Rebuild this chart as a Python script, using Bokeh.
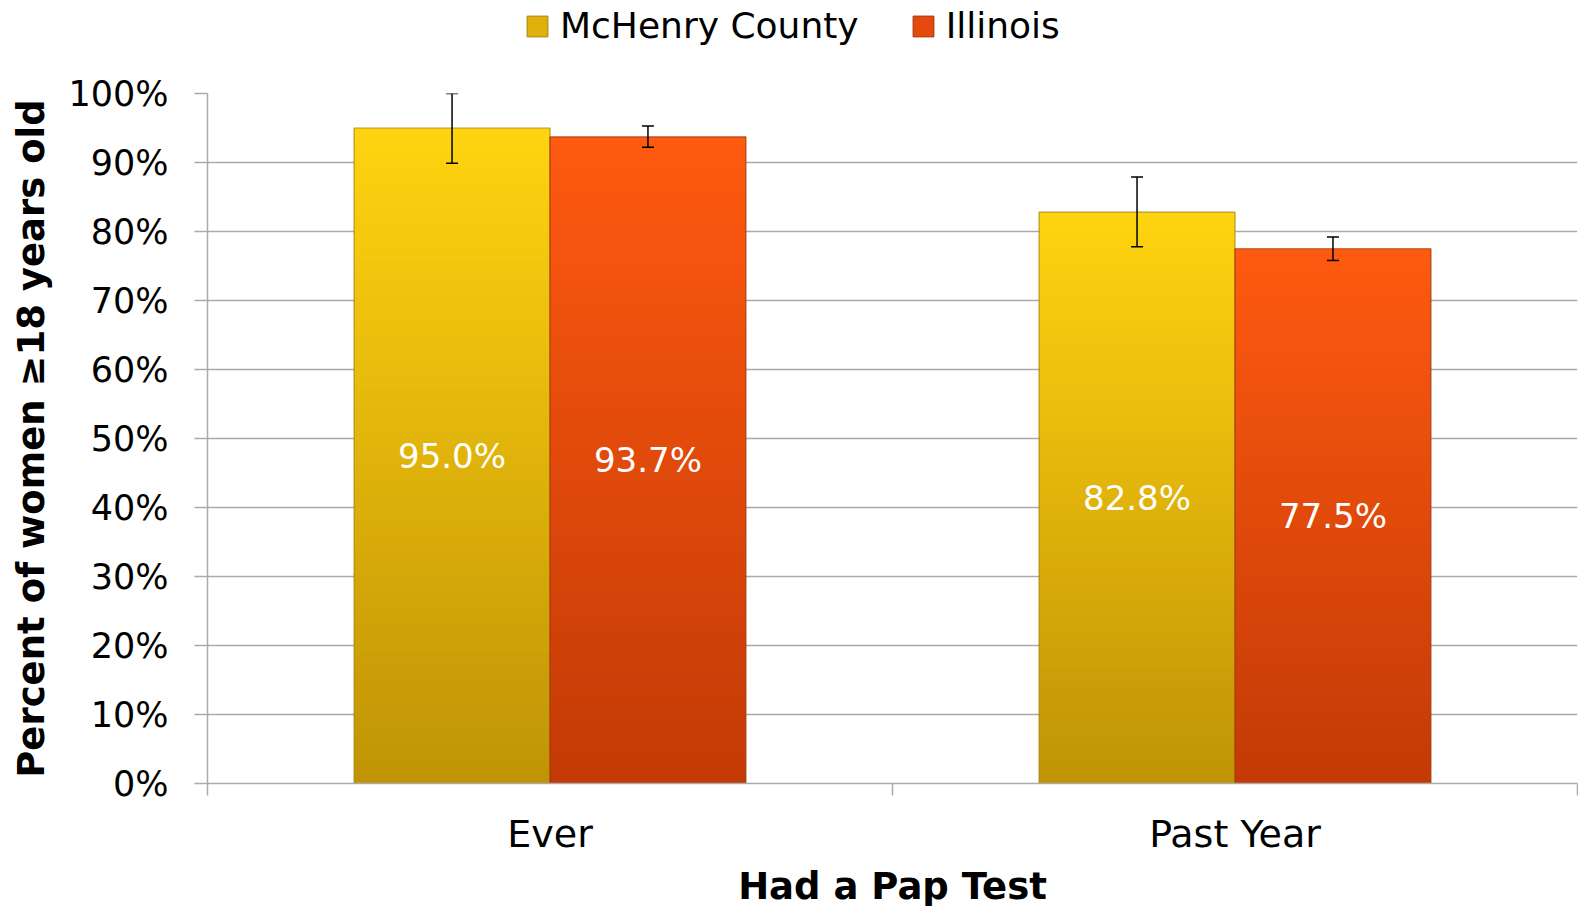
import numpy as np
from bokeh.plotting import figure
from bokeh.layouts import column
from bokeh.models import (ColumnDataSource, Whisker, TeeHead, FixedTicker, Legend,
                          LegendItem, Range1d)
from bokeh.core.properties import value
from bokeh.embed import file_html
from bokeh.resources import INLINE

# ---------------- data ----------------
categories = ["Ever", "Past Year"]
series_names = ["McHenry County", "Illinois"]
mchenry = [95.0, 82.8]
illinois = [93.7, 77.5]
mchenry_lower = [89.9, 77.8]
mchenry_upper = [100.0, 87.9]
illinois_lower = [92.2, 75.8]
illinois_upper = [95.3, 79.2]
y_ticks = [0, 10, 20, 30, 40, 50, 60, 70, 80, 90, 100]
y_tick_labels = ["0%", "10%", "20%", "30%", "40%", "50%", "60%", "70%", "80%", "90%", "100%"]
x_title = "Had a Pap Test"
y_title = "Percent of women \u226518 years old"

# ---------------- style ----------------
FONT = "DejaVu Sans"
GRID = "#AAAAAA"
TOP_COLORS = [(255, 212, 16), (255, 90, 16)]
BOTTOM_COLORS = [(192, 147, 6), (194, 58, 6)]
LEGEND_COLORS = ["#E0B00C", "#E44A0C"]
EDGE_COLORS = ["#A8840A", "#A03508"]
BAR_W = 0.286
OFFSETS = [-BAR_W / 2, BAR_W / 2]
N_SLICES = 60
TOTAL_W = 1578
LEGEND_H = 60
LEFT = 207

values = [mchenry, illinois]
lowers = [mchenry_lower, illinois_lower]
uppers = [mchenry_upper, illinois_upper]

cat_pos = [i + 0.5 for i, _ in enumerate(categories)]

p = figure(frame_width=1370, frame_height=690, x_range=Range1d(0, len(categories)),
           y_range=Range1d(0, 100), output_backend="svg", toolbar_location=None,
           min_border_left=LEFT, min_border_right=1, min_border_top=93 - LEGEND_H,
           min_border_bottom=120)
p.outline_line_color = None
p.background_fill_color = "white"
p.border_fill_color = "white"


def hexcol(c):
    return "#%02x%02x%02x" % tuple(int(round(v)) for v in c)


for s, name in enumerate(series_names):
    xs, bots, tops, cols = [], [], [], []
    for i, v in enumerate(values[s]):
        for k in range(N_SLICES):
            frac = (k + 0.5) / N_SLICES
            b = v * k / N_SLICES
            t = v * (k + 1) / N_SLICES
            if k < N_SLICES - 1:
                t += 0.12
            c = [BOTTOM_COLORS[s][j] + (TOP_COLORS[s][j] - BOTTOM_COLORS[s][j]) * frac for j in range(3)]
            xs.append(cat_pos[i] + OFFSETS[s])
            bots.append(b)
            tops.append(t)
            cols.append(hexcol(c))
    src = ColumnDataSource(dict(x=xs, bottom=bots, top=tops, color=cols))
    p.vbar(x="x", width=BAR_W, bottom="bottom", top="top", fill_color="color",
           line_color=None, source=src)
    # outline
    osrc = ColumnDataSource(dict(x=[c + OFFSETS[s] for c in cat_pos], top=values[s]))
    p.vbar(x="x", width=BAR_W, bottom=0, top="top", fill_color=None,
           line_color=EDGE_COLORS[s], line_width=1.2, line_alpha=0.8, source=osrc)
    # value labels
    lsrc = ColumnDataSource(dict(x=[c + OFFSETS[s] for c in cat_pos],
                                 y=[v / 2 for v in values[s]],
                                 t=["%.1f%%" % v for v in values[s]]))
    p.text(x="x", y="y", text="t", source=lsrc, text_align="center",
           text_baseline="middle", text_color="white", text_font=value(FONT),
           text_font_size="34px")
    # error bars
    esrc = ColumnDataSource(dict(x=[c + OFFSETS[s] for c in cat_pos],
                                 lower=lowers[s], upper=uppers[s]))
    w = Whisker(source=esrc, base="x", lower="lower", upper="upper",
                line_color="black", line_width=1.5, level="overlay",
                upper_head=TeeHead(size=12, line_color="black", line_width=1.5),
                lower_head=TeeHead(size=12, line_color="black", line_width=1.5))
    p.add_layout(w)

# ---------------- axes ----------------
p.xgrid.visible = False
p.ygrid.ticker = FixedTicker(ticks=y_ticks)
p.ygrid.grid_line_color = GRID
p.ygrid.grid_line_width = 1.5

ya = p.yaxis[0]
ya.ticker = FixedTicker(ticks=y_ticks)
ya.major_label_overrides = {t: l for t, l in zip(y_ticks, y_tick_labels)}
ya.axis_line_color = GRID
ya.axis_line_width = 1.5
ya.major_tick_line_color = GRID
ya.major_tick_line_width = 1.5
ya.major_tick_out = 13
ya.major_tick_in = 0
ya.minor_tick_line_color = None
ya.major_label_standoff = 26
ya.major_label_text_font = FONT
ya.major_label_text_font_size = "35px"
ya.major_label_text_color = "black"
ya.axis_label = y_title
ya.axis_label_text_font = FONT
ya.axis_label_text_font_style = "bold"
ya.axis_label_text_font_size = "37px"
ya.axis_label_text_color = "black"
ya.axis_label_standoff = 12

xa = p.xaxis[0]
xa.ticker = FixedTicker(ticks=cat_pos, minor_ticks=list(range(len(categories) + 1)))
xa.major_label_overrides = {t: c for t, c in zip(cat_pos, categories)}
xa.axis_line_color = GRID
xa.axis_line_width = 1.5
xa.major_tick_out = 0
xa.major_tick_in = 0
xa.major_tick_line_color = None
xa.minor_tick_out = 12
xa.minor_tick_in = 0
xa.minor_tick_line_color = GRID
xa.minor_tick_line_width = 1.5
xa.major_label_standoff = 16
xa.major_label_text_font = FONT
xa.major_label_text_font_size = "38px"
xa.major_label_text_color = "black"
xa.axis_label = x_title
xa.axis_label_text_font = FONT
xa.axis_label_text_font_style = "bold"
xa.axis_label_text_font_size = "37px"
xa.axis_label_text_color = "black"
xa.axis_label_standoff = 6

# ---------------- legend (separate strip above the chart) ----------------
lg = figure(width=TOTAL_W, height=LEGEND_H, x_range=Range1d(0, 1), y_range=Range1d(0, 1),
            output_backend="svg", toolbar_location=None, x_axis_location=None,
            y_axis_location=None, min_border=0)
lg.outline_line_color = None
lg.xgrid.visible = False
lg.ygrid.visible = False
leg_renderers = []
for s, name in enumerate(series_names):
    r = lg.vbar(x=[-10], bottom=[-10], top=[-9], width=0.1, fill_color=LEGEND_COLORS[s],
                line_color=EDGE_COLORS[s], line_width=1)
    leg_renderers.append(r)
legend = Legend(items=[LegendItem(label=n, renderers=[leg_renderers[s]])
                       for s, n in enumerate(series_names)],
                orientation="horizontal", location=(524 - LEFT, LEGEND_H - 25 - 21),
                border_line_color=None, background_fill_alpha=0,
                label_text_font=FONT, label_text_font_size="36px",
                label_text_color="black",
                glyph_width=26, glyph_height=26, padding=0, spacing=51,
                label_standoff=10, margin=0)
lg.add_layout(legend)

layout = column(lg, p, spacing=0)
open("out.html", "w").write(file_html(layout, INLINE))
